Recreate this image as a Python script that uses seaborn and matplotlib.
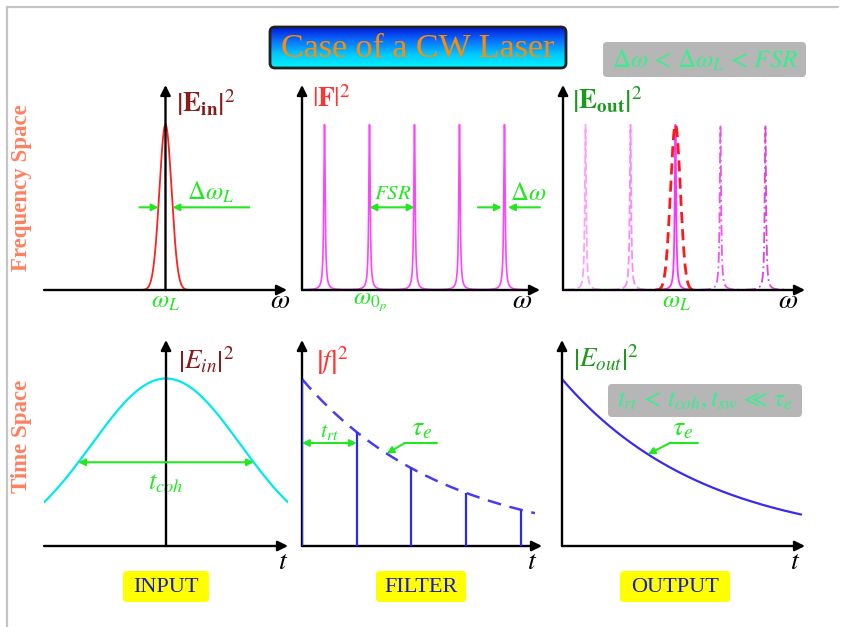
import numpy as np
import pandas as pd
import matplotlib
matplotlib.use("Agg")
import matplotlib.pyplot as plt
import seaborn as sns
from matplotlib.patches import FancyBboxPatch
from matplotlib.colors import LinearSegmentedColormap

# ---------------- data ----------------
# Frequency space
laser_center = 0.0            # omega_L in the input panel
laser_height = 1.0
laser_sigma = 0.05
filter_modes = [0.5, 1.5, 2.5, 3.5, 4.5]      # comb lines (units of FSR)
filter_heights = [1.0, 1.0, 1.0, 1.0, 1.0]
filter_hwhm = 0.018
out_modes = [0.5, 1.5, 2.5, 3.5, 4.5]
out_heights = [1.0, 1.0, 1.0, 1.0, 1.0]
out_laser_center = 2.5
out_laser_height = 1.0
out_laser_sigma = 0.11
# Time space
pulse_height = 1.0
pulse_sigma = 0.61
rt_times = [0, 1, 2, 3, 4]                     # round trips
rt_heights = [1.0, 0.683, 0.466, 0.319, 0.218]
decay_tau = 2.62                               # tau_e in round-trip units
envelope_end = 4.26
output_end = 4.37

W, H = 844, 627
sns.set_theme(style="white")
plt.rcParams["mathtext.fontset"] = "stix"
plt.rcParams["font.family"] = ["Liberation Serif", "DejaVu Serif"]

fig = plt.figure(figsize=(W / 100, H / 100), dpi=100)
fig.patch.set_facecolor("white")

GREEN = "#22e822"
SERIF = "Liberation Serif"
LABEL_SIZE = 19.5

# ---------- background layer in pixel coordinates ----------
ov = fig.add_axes([0, 0, 1, 1], zorder=0)
ov.set_axis_off()

# frame lines
ov.plot([7, 838], [7, 7], color="#c4c4c4", lw=1.6)
ov.plot([7, 7], [7, 627], color="#c4c4c4", lw=1.6)

# title box with vertical gradient
grad = np.linspace(0, 1, 200).reshape(-1, 1)
cmap = LinearSegmentedColormap.from_list("tb", ["#0018d8", "#0a70ff", "#00c8ff", "#00f4ff"])
im = ov.imshow(grad, extent=(270, 566, 68, 27), aspect="auto", cmap=cmap, origin="upper", zorder=1)
tbox = FancyBboxPatch((270, 27), 296, 41, boxstyle="round,pad=0,rounding_size=5",
                      fc="none", ec="#202020", lw=2, zorder=2)
ov.add_patch(tbox)
im.set_clip_path(tbox)
ov.text(418, 48, "Case of a CW Laser", color="#ff8c00", fontsize=24.5, family=SERIF,
        ha="center", va="center", zorder=3)

# condition box (top right)
ov.add_patch(FancyBboxPatch((603, 42), 203, 35, boxstyle="round,pad=0,rounding_size=4",
                            fc="#b6b6b6", ec="none", zorder=1))
ov.text(705, 60, r"$\Delta\omega\,<\,\Delta\omega_L\,<\,FSR$", color="#33f08c",
        fontsize=18, ha="center", va="center", zorder=2)

# condition box (time output)
ov.add_patch(FancyBboxPatch((608, 384), 194, 33, boxstyle="round,pad=0,rounding_size=4",
                            fc="#b6b6b6", ec="none", zorder=1))
ov.text(705, 401, r"$t_{rt}\,<\,t_{coh},t_{sw}\,\ll\,\tau_e$", color="#33f08c",
        fontsize=18, ha="center", va="center", zorder=2)

# row labels
ov.text(22, 188, "Frequency Space", rotation=90, color="#ff8060", fontsize=16.5,
        weight="bold", family=SERIF, ha="center", va="center")
ov.text(22, 436, "Time Space", rotation=90, color="#ff8060", fontsize=16.5,
        weight="bold", family=SERIF, ha="center", va="center")

# column tags
for cx, w, label in [(166, 86, "INPUT"), (421, 90, "FILTER"), (675, 110, "OUTPUT")]:
    ov.add_patch(FancyBboxPatch((cx - w / 2, 571), w, 31, boxstyle="round,pad=0,rounding_size=4",
                                fc="#ffff00", ec="none", zorder=1))
    ov.text(cx, 587, label, color="#1a1ad0", fontsize=16, family=SERIF,
            ha="center", va="center", zorder=2)

ov.set_xlim(0, W)
ov.set_ylim(H, 0)


# ---------- panels ----------
def panel(x0, x1, ybot, ytop, xlim, ylim):
    ax = fig.add_axes([x0 / W, 1 - ybot / H, (x1 - x0) / W, (ybot - ytop) / H], zorder=1)
    ax.set_xlim(*xlim)
    ax.set_ylim(*ylim)
    ax.set_axis_off()
    return ax


def axis_arrows(ax, xo, yo):
    x0, x1 = ax.get_xlim()
    y0, y1 = ax.get_ylim()
    kw = dict(arrowstyle="-|>", color="black", lw=1.7, mutation_scale=15, shrinkA=0, shrinkB=0)
    ax.annotate("", xy=(x1, yo), xytext=(x0, yo), arrowprops=kw, annotation_clip=False, zorder=5)
    ax.annotate("", xy=(xo, y1), xytext=(xo, y0), arrowprops=kw, annotation_clip=False, zorder=5)


def garrow(ax, tail, tip, style="-|>"):
    ax.annotate("", xy=tip, xytext=tail,
                arrowprops=dict(arrowstyle=style, color=GREEN, lw=1.5, mutation_scale=10,
                                shrinkA=0, shrinkB=0), annotation_clip=False, zorder=6)


def curve(ax, x, y, color, lw, dashes=None, z=3):
    sns.lineplot(x=x, y=y, ax=ax, color=color, lw=lw, estimator=None, sort=False, zorder=z)
    if dashes is not None:
        ax.lines[-1].set_dashes(dashes)


def txt(ax, x, y, s, color, size, **kw):
    ax.text(x, y, s, color=color, fontsize=size, ha="center", va="center", clip_on=False, **kw)


# --- Frequency / input ---
axA = panel(44, 287, 290, 85, (-1, 1), (0, 1.24))
xa = np.linspace(-0.3, 0.3, 600)
curve(axA, xa, laser_height * np.exp(-0.5 * ((xa - laser_center) / laser_sigma) ** 2), "#ff2020", 1.3)
axis_arrows(axA, 0, 0)
garrow(axA, (-0.214, 0.5), (-0.058, 0.5))
garrow(axA, (0.69, 0.5), (0.058, 0.5))
txt(axA, 0.37, 0.59, r"$\Delta\omega_L$", GREEN, 18)
txt(axA, 0.0, -0.075, r"$\omega_L$", GREEN, 18)
txt(axA, 0.94, -0.07, r"$\omega$", "black", 20)
txt(axA, 0.33, 1.13, r"$\left|\mathbf{E}_{\mathbf{in}}\right|^2$", "#8b1a1a", LABEL_SIZE)

# --- Frequency / filter ---
axB = panel(302, 540, 290, 85, (0, 5.29), (0, 1.24))
xb = np.linspace(0, 5.0, 5000)
yb = sum(h * filter_hwhm ** 2 / ((xb - c) ** 2 + filter_hwhm ** 2)
         for c, h in zip(filter_modes, filter_heights))
curve(axB, xb, yb, "#ff44ff", 1.2)
axis_arrows(axB, 0, 0)
garrow(axB, (1.5, 0.5), (2.5, 0.5), style="<|-|>")
txt(axB, 2.02, 0.58, r"$FSR$", GREEN, 15)
garrow(axB, (3.91, 0.5), (4.44, 0.5))
garrow(axB, (5.29, 0.5), (4.58, 0.5))
txt(axB, 5.02, 0.58, r"$\Delta\omega$", GREEN, 18)
txt(axB, 1.51, -0.08, r"$\omega_{0_p}$", GREEN, 18)
txt(axB, 4.89, -0.07, r"$\omega$", "black", 20)
txt(axB, 0.66, 1.15, r"$\left|\mathbf{F}\right|^2$", "#ff3333", LABEL_SIZE)

# --- Frequency / output ---
axC = panel(563, 805, 290, 85, (0, 5.38), (0, 1.24))
mode_colors = ["#ffa0ff", "#ff88ff", "#ff33ff", "#ee55ee", "#dd44dd"]
mode_dashes = [(5, 2), (5, 2), None, (6, 2, 1, 2), (6, 2, 1, 2)]
for c, h, col, ds in zip(out_modes, out_heights, mode_colors, mode_dashes):
    xm = np.linspace(c - 0.45, c + 0.45, 1200)
    curve(axC, xm, h * filter_hwhm ** 2 / ((xm - c) ** 2 + filter_hwhm ** 2), col, 1.3, ds)
xr = np.linspace(out_laser_center - 0.45, out_laser_center + 0.45, 600)
curve(axC, xr, out_laser_height * np.exp(-0.5 * ((xr - out_laser_center) / out_laser_sigma) ** 2),
      "#ff1a1a", 2.0, (4, 2.2), z=4)
axis_arrows(axC, 0, 0)
txt(axC, 2.53, -0.075, r"$\omega_L$", GREEN, 18)
txt(axC, 5.0, -0.07, r"$\omega$", "black", 20)
txt(axC, 0.99, 1.15, r"$\left|\mathbf{E}_{\mathbf{out}}\right|^2$", "#1a9a1a", LABEL_SIZE)

# --- Time / input ---
axD = panel(44, 288, 546, 340, (-1, 1), (0, 1.23))
xd = np.linspace(-1, 1, 500)
curve(axD, xd, pulse_height * np.exp(-0.5 * (xd / pulse_sigma) ** 2), "#00e8f0", 1.6)
axis_arrows(axD, 0, 0)
garrow(axD, (-0.72, 0.5), (0.72, 0.5), style="<|-|>")
txt(axD, 0.0, 0.37, r"$t_{coh}$", GREEN, 19)
txt(axD, 0.96, -0.10, r"$t$", "black", 20)
txt(axD, 0.33, 1.11, r"$\left|E_{in}\right|^2$", "#8b1a1a", LABEL_SIZE)

# --- Time / filter ---
axE = panel(302, 542, 546, 340, (0, 4.39), (0, 1.234))
xe = np.linspace(0, envelope_end, 400)
curve(axE, xe, np.exp(-xe / decay_tau), "#4a3cf0", 1.8, (5.5, 3.5))
axis_arrows(axE, 0, 0)
axE.vlines(rt_times, 0, rt_heights, color="#2a2af0", lw=1.6, zorder=7)
garrow(axE, (0, 0.617), (1, 0.617), style="<|-|>")
txt(axE, 0.51, 0.685, r"$t_{rt}$", GREEN, 16)
axE.plot([2.47, 1.88], [0.617, 0.617], color=GREEN, lw=1.5, zorder=6)
garrow(axE, (1.88, 0.617), (1.55, np.exp(-1.55 / decay_tau)))
txt(axE, 2.19, 0.70, r"$\tau_e$", GREEN, 20)
txt(axE, 4.2, -0.10, r"$t$", "black", 20)
txt(axE, 0.55, 1.11, r"$\left|f\right|^2$", "#ff3333", LABEL_SIZE)

# --- Time / output ---
axF = panel(562, 805, 546, 340, (0, 4.44), (0, 1.234))
xf = np.linspace(0, output_end, 400)
curve(axF, xf, np.exp(-xf / decay_tau), "#3a2af0", 1.6)
axis_arrows(axF, 0, 0)
axF.plot([2.49, 1.97], [0.617, 0.617], color=GREEN, lw=1.5, zorder=6)
garrow(axF, (1.97, 0.617), (1.57, np.exp(-1.57 / decay_tau)))
txt(axF, 2.21, 0.70, r"$\tau_e$", GREEN, 20)
txt(axF, 4.26, -0.10, r"$t$", "black", 20)
txt(axF, 0.81, 1.125, r"$\left|E_{out}\right|^2$", "#1a9a1a", LABEL_SIZE)

fig.savefig("out.png", dpi=100, facecolor="white")
